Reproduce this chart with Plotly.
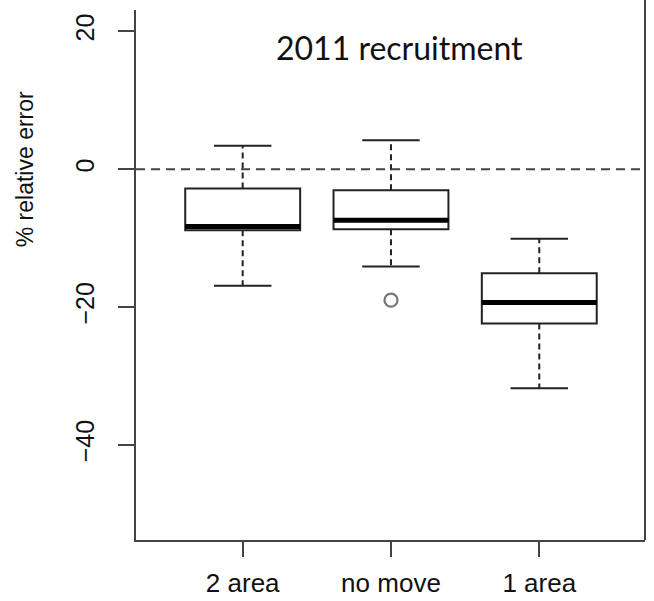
import plotly.graph_objects as go

# ---- data ----
groups = ["2 area", "no move", "1 area"]
positions = [1, 2, 3]
upper_whisker = [3.4, 4.2, -10.1]
q3 = [-2.8, -3.05, -15.1]
median = [-8.3, -7.4, -19.35]
q1 = [-8.85, -8.7, -22.4]
lower_whisker = [-16.9, -14.1, -31.8]
outlier_pos = [2]
outlier_value = [-19.0]
y_ticks = [20, 0, -20, -40]
title_text = "2011 recruitment"
y_title = "% relative error"

BOX_W = 0.775
LINE = "#222222"
AXIS = "#444444"

fig = go.Figure()

# boxes (no whiskers here; whiskers drawn dashed below)
fig.add_trace(go.Box(
    x=positions, q1=q1, median=median, q3=q3,
    lowerfence=q1, upperfence=q3,
    width=BOX_W, fillcolor="white",
    line=dict(color=LINE, width=2),
    boxpoints=False, whiskerwidth=0, hoverinfo="skip", showlegend=False,
))

# dashed whiskers
wx, wy = [], []
for p, hi, top, bot, lo in zip(positions, upper_whisker, q3, q1, lower_whisker):
    wx += [p, p, None, p, p, None]
    wy += [top, hi, None, bot, lo, None]
fig.add_trace(go.Scatter(x=wx, y=wy, mode="lines",
                         line=dict(color=LINE, width=2, dash="6px,4px"),
                         hoverinfo="skip", showlegend=False))

# whisker caps
cx, cy = [], []
for p, hi, lo in zip(positions, upper_whisker, lower_whisker):
    cx += [p - BOX_W / 4, p + BOX_W / 4, None, p - BOX_W / 4, p + BOX_W / 4, None]
    cy += [hi, hi, None, lo, lo, None]
fig.add_trace(go.Scatter(x=cx, y=cy, mode="lines",
                         line=dict(color=LINE, width=2),
                         hoverinfo="skip", showlegend=False))

# thick medians
mx, my = [], []
for p, m in zip(positions, median):
    mx += [p - BOX_W / 2, p + BOX_W / 2, None]
    my += [m, m, None]
fig.add_trace(go.Scatter(x=mx, y=my, mode="lines",
                         line=dict(color="#000000", width=5),
                         hoverinfo="skip", showlegend=False))

# outliers
fig.add_trace(go.Scatter(x=outlier_pos, y=outlier_value, mode="markers",
                         marker=dict(symbol="circle-open", size=13,
                                     color="#777777", line=dict(width=2.2)),
                         hoverinfo="skip", showlegend=False))

# dashed zero line
fig.add_shape(type="line", xref="paper", x0=0, x1=1, yref="y", y0=0, y1=0,
              line=dict(color=AXIS, width=2, dash="9px,6px"))
# right frame line
fig.add_shape(type="line", xref="paper", x0=1, x1=1, yref="paper", y0=0, y1=1.02,
              line=dict(color=AXIS, width=2))

fig.add_annotation(text=title_text, xref="x", x=2.06, yref="y", y=17.6,
                   showarrow=False, font=dict(family="Lato", size=32, color="#111111"))
fig.add_annotation(text=y_title, textangle=-90, xref="paper", x=-0.218,
                   xanchor="center", yanchor="middle",
                   yref="y", y=0.0, showarrow=False,
                   font=dict(family="Liberation Sans", size=23, color="#111111"))

fig.update_layout(
    width=654, height=601,
    margin=dict(l=136, r=9, t=10, b=61, autoexpand=False),
    plot_bgcolor="white", paper_bgcolor="white",
    xaxis=dict(range=[0.2805, 3.713], tickvals=positions, ticktext=groups,
               automargin=False,
               showgrid=False, zeroline=False, showline=True, linecolor=AXIS, linewidth=2,
               ticks="outside", ticklen=15, tickwidth=2, tickcolor=AXIS,
               ticklabelstandoff=4,
               tickfont=dict(family="Liberation Sans", size=26, color="#111111")),
    yaxis=dict(range=[-53.8, 23.1], tickvals=y_ticks, tickangle=-90,
               automargin=False,
               showgrid=False, zeroline=False, showline=True, linecolor=AXIS, linewidth=2,
               ticks="outside", ticklen=16, tickwidth=2, tickcolor=AXIS,
               ticklabelstandoff=14,
               tickfont=dict(family="Liberation Sans", size=25, color="#111111")),
)

fig.write_html("out.html")
